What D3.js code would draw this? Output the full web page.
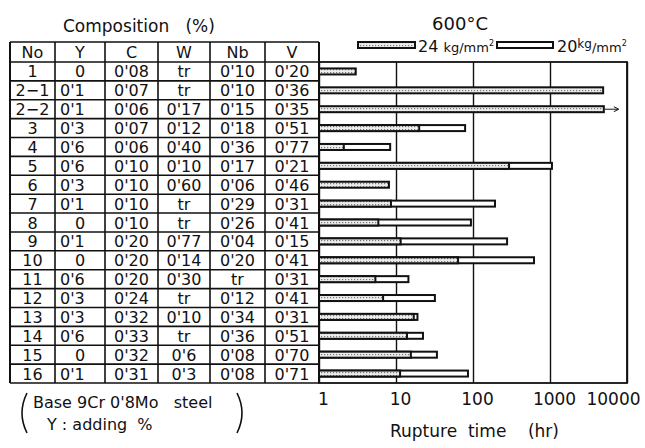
<!DOCTYPE html>
<html>
<head>
<meta charset="utf-8">
<script src="https://cdn.jsdelivr.net/npm/d3@7/dist/d3.min.js"></script>
<style>
  body { margin: 0; background: #fff; }
  text { font-family: "DejaVu Sans", sans-serif; fill: #111; }
</style>
</head>
<body>
<div id="wrapper"></div>
<script>
// table data (decimal point printed raised, as in the original)
const headers = ["No", "Y", "C", "W", "Nb", "V"]
const specimens = ["1", "2\u22121", "2\u22122", "3", "4", "5", "6", "7", "8", "9", "10", "11", "12", "13", "14", "15", "16"]
const yAdd = ["0", "0'1", "0'1", "0'3", "0'6", "0'6", "0'3", "0'1", "0", "0'1", "0", "0'6", "0'3", "0'3", "0'6", "0", "0'1"]
const carbon = ["0'08", "0'07", "0'06", "0'07", "0'06", "0'10", "0'10", "0'10", "0'10", "0'20", "0'20", "0'20", "0'24", "0'32", "0'33", "0'32", "0'31"]
const tungsten = ["tr", "tr", "0'17", "0'12", "0'40", "0'10", "0'60", "tr", "tr", "0'77", "0'14", "0'30", "tr", "0'10", "tr", "0'6", "0'3"]
const niobium = ["0'10", "0'10", "0'15", "0'18", "0'36", "0'17", "0'06", "0'29", "0'26", "0'04", "0'20", "tr", "0'12", "0'34", "0'36", "0'08", "0'08"]
const vanadium = ["0'20", "0'36", "0'35", "0'51", "0'77", "0'21", "0'46", "0'31", "0'41", "0'15", "0'41", "0'31", "0'41", "0'31", "0'51", "0'70", "0'71"]

// rupture time (hr) at 600°C
const rupture24 = [3.0, 4900, 5000, 20, 2.1, 294, 8.1, 8.6, 5.9, 11.5, 64, 5.4, 6.8, 17, 13.9, 15.6, 11.3]
const rupture20 = [null, null, null, 79, 8.4, 1060, null, 193, 94, 277, 620, 14.5, 32, 19, 22.4, 34, 86]
const stillRunning = ["2\u22122"]
const timeTicks = [1, 10, 100, 1000, 10000]

function drawChart() {

  // 1. Dimensions
  const dimensions = {
    width: 645,
    height: 448,
    headTop: 42,
    rowsTop: 62,
    rowsBottom: 383,
    chartLeft: 319,
    chartRight: 627,
  }
  const colEdges = [10, 55, 105, 158, 210, 265, dimensions.chartLeft]
  const columns = [specimens, yAdd, carbon, tungsten, niobium, vanadium]

  // 2. Canvas
  const svg = d3.select("#wrapper")
    .append("svg")
      .attr("width", dimensions.width)
      .attr("height", dimensions.height)

  const defs = svg.append("defs")
  const stipple = defs.append("pattern")
      .attr("id", "stipple")
      .attr("width", 3)
      .attr("height", 3)
      .attr("patternUnits", "userSpaceOnUse")
  stipple.append("rect").attr("width", 3).attr("height", 3).attr("fill", "#ececec")
  stipple.append("rect").attr("width", 1.2).attr("height", 1.2).attr("fill", "#777")

  // 3. Scales
  const yScale = d3.scaleBand()
    .domain(specimens)
    .range([dimensions.rowsTop, dimensions.rowsBottom])

  const xScale = d3.scaleLog()
    .domain([1, 10000])
    .range([dimensions.chartLeft, dimensions.chartRight])

  // 4. Table
  svg.append("text")
      .attr("x", 63)
      .attr("y", 32)
      .style("font-size", "17px")
      .style("white-space", "pre")
      .text("Composition   (%)")

  const table = svg.append("g")
      .attr("stroke", "#111")
      .attr("fill", "none")

  table.selectAll(".hline")
    .data([dimensions.headTop, ...yScale.domain().map(d => yScale(d)), dimensions.rowsBottom])
    .join("line")
      .attr("x1", colEdges[0])
      .attr("x2", dimensions.chartLeft)
      .attr("y1", d => d)
      .attr("y2", d => d)
      .attr("stroke-width", 1.6)

  table.selectAll(".vline")
    .data(colEdges)
    .join("line")
      .attr("x1", d => d)
      .attr("x2", d => d)
      .attr("y1", dimensions.headTop)
      .attr("y2", dimensions.rowsBottom)
      .attr("stroke-width", (d, i) => i == 0 || i == colEdges.length - 1 ? 2 : 1.6)

  const colCenter = i => (colEdges[i] + colEdges[i + 1]) / 2

  svg.append("g").selectAll("text")
    .data(headers)
    .join("text")
      .attr("x", (d, i) => colCenter(i))
      .attr("y", dimensions.headTop + 16)
      .attr("text-anchor", "middle")
      .style("font-size", "16px")
      .text(d => d)

  columns.forEach((col, i) => {
    svg.append("g").selectAll("text")
      .data(col)
      .join("text")
        .attr("x", d => i == 1 && d != "0" ? colEdges[1] + 5 : colCenter(i))
        .attr("y", (d, j) => yScale(specimens[j]) + yScale.bandwidth() / 2 + 6)
        .attr("text-anchor", d => i == 1 && d != "0" ? "start" : "middle")
        .style("font-size", "16px")
        .text(d => d)
  })

  // 5. Grid + axis
  const axis = svg.append("g")
      .attr("transform", `translate(0, ${dimensions.rowsBottom})`)
      .call(d3.axisBottom(xScale)
        .tickValues(timeTicks)
        .tickFormat(d3.format("d"))
        .tickSize(-(dimensions.rowsBottom - dimensions.rowsTop))
        .tickPadding(10))

  axis.select(".domain").remove()
  axis.selectAll(".tick line")
      .attr("stroke", "#111")
      .attr("stroke-width", 1.4)
  axis.selectAll(".tick text")
      .attr("fill", "#111")
      .attr("dx", 4)
      .style("font-size", "17px")
      .style("font-family", "DejaVu Sans, sans-serif")
  axis.selectAll(".tick:last-of-type text")
      .attr("dx", -14)

  svg.append("rect")
      .attr("x", dimensions.chartLeft)
      .attr("y", dimensions.rowsTop)
      .attr("width", dimensions.chartRight - dimensions.chartLeft)
      .attr("height", dimensions.rowsBottom - dimensions.rowsTop)
      .attr("fill", "none")
      .attr("stroke", "#111")
      .attr("stroke-width", 1.8)

  // 6. Bars
  const barH = 6
  const barY = d => yScale(d) + yScale.bandwidth() / 2 - barH / 2

  svg.append("g").selectAll("rect")
    .data(specimens.filter((d, i) => rupture20[i] != null))
    .join("rect")
      .attr("x", xScale(1))
      .attr("y", d => barY(d))
      .attr("width", d => xScale(rupture20[specimens.indexOf(d)]) - xScale(1))
      .attr("height", barH)
      .attr("fill", "#fff")
      .attr("stroke", "#111")
      .attr("stroke-width", 2)

  svg.append("g").selectAll("rect")
    .data(specimens)
    .join("rect")
      .attr("x", xScale(1))
      .attr("y", d => barY(d))
      .attr("width", (d, i) => xScale(rupture24[i]) - xScale(1))
      .attr("height", barH)
      .attr("fill", "url(#stipple)")
      .attr("stroke", "#111")
      .attr("stroke-width", 2)

  // arrow: specimen not yet ruptured
  stillRunning.forEach(s => {
    const i = specimens.indexOf(s)
    const x0 = xScale(rupture24[i]) + 1
    const cy = barY(s) + barH / 2
    svg.append("line")
        .attr("x1", x0).attr("x2", x0 + 13)
        .attr("y1", cy).attr("y2", cy)
        .attr("stroke", "#111")
        .attr("stroke-width", 1)
    svg.append("path")
        .attr("d", `M${x0 + 9},${cy - 2.5} L${x0 + 14},${cy} L${x0 + 9},${cy + 2.5}`)
        .attr("fill", "none")
        .attr("stroke", "#111")
        .attr("stroke-width", 1)
  })

  // 7. Title + legend
  svg.append("text")
      .attr("x", 460)
      .attr("y", 30)
      .attr("text-anchor", "middle")
      .style("font-size", "18px")
      .text("600°C")

  svg.append("rect")
      .attr("x", 358).attr("y", 42)
      .attr("width", 57).attr("height", 6)
      .attr("fill", "url(#stipple)")
      .attr("stroke", "#111")
      .attr("stroke-width", 2)

  const leg1 = svg.append("text").attr("x", 418).attr("y", 52)
  leg1.append("tspan").style("font-size", "16px").text("24 ")
  leg1.append("tspan").style("font-size", "13px").text("kg/mm")
  leg1.append("tspan").style("font-size", "8px").attr("dy", -6).text("2")

  svg.append("rect")
      .attr("x", 497).attr("y", 42)
      .attr("width", 56).attr("height", 6)
      .attr("fill", "#fff")
      .attr("stroke", "#111")
      .attr("stroke-width", 2)

  const leg2 = svg.append("text").attr("x", 557).attr("y", 52)
  leg2.append("tspan").style("font-size", "16px").text("20")
  leg2.append("tspan").style("font-size", "12px").attr("dy", -4).text("kg")
  leg2.append("tspan").style("font-size", "13px").attr("dy", 4).text("/mm")
  leg2.append("tspan").style("font-size", "8px").attr("dy", -6).text("2")

  // 8. Peripherals
  svg.append("text")
      .attr("x", 390)
      .attr("y", 437)
      .style("font-size", "17px")
      .style("white-space", "pre")
      .text("Rupture  time    (hr)")

  svg.append("text")
      .attr("x", 33)
      .attr("y", 408)
      .style("font-size", "16px")
      .style("white-space", "pre")
      .text("Base 9Cr 0'8Mo   steel")
  svg.append("text")
      .attr("x", 47)
      .attr("y", 430)
      .style("font-size", "16px")
      .style("white-space", "pre")
      .text("Y : adding  %")

  svg.append("path")
      .attr("d", "M27,393 Q17,413 27,433")
      .attr("fill", "none").attr("stroke", "#111").attr("stroke-width", 1.6)
  svg.append("path")
      .attr("d", "M237,393 Q247,413 237,433")
      .attr("fill", "none").attr("stroke", "#111").attr("stroke-width", 1.6)
}
drawChart()
</script>
</body>
</html>
